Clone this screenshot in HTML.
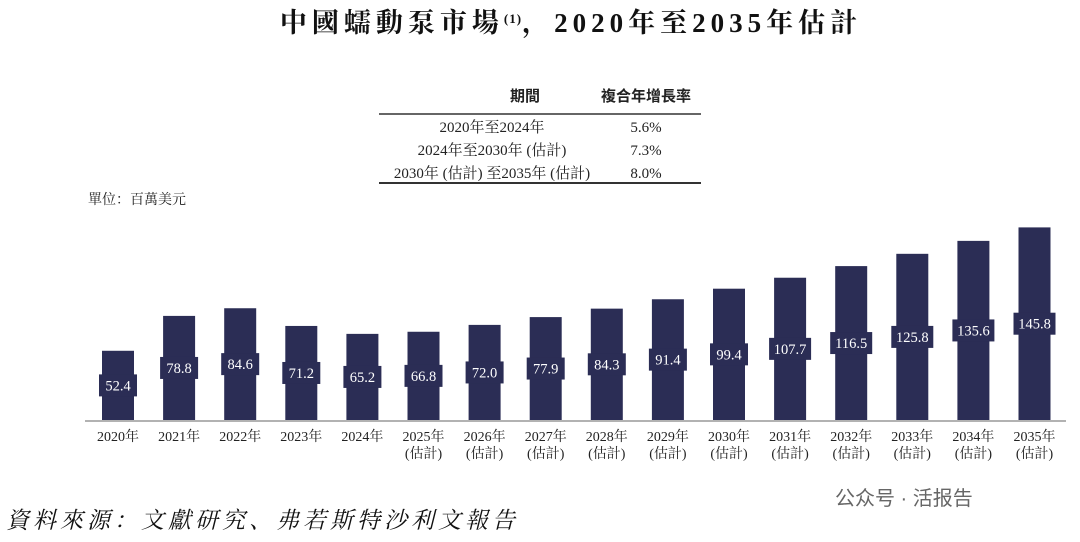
<!DOCTYPE html>
<html><head><meta charset="utf-8"><style>
body{margin:0;width:1080px;height:542px;background:#fff;overflow:hidden;font-family:"Liberation Serif","Noto Serif CJK SC",serif;}
svg{display:block}
</style></head><body>
<svg id="c" width="1080" height="542">
<text x="571" y="32" text-anchor="middle" font-size="27" font-weight="bold" fill="#111" letter-spacing="5">中國蠕動泵市場<tspan font-size="13" dy="-9" letter-spacing="1">(1)</tspan><tspan dy="9">，2020年至2035年估計</tspan></text>
<g font-size="15" fill="#222">
<text x="525" y="101" text-anchor="middle" font-family="Liberation Sans,Noto Sans CJK SC,sans-serif" font-weight="bold">期間</text>
<text x="646" y="101" text-anchor="middle" font-family="Liberation Sans,Noto Sans CJK SC,sans-serif" font-weight="bold">複合年增長率</text>
<line x1="379" y1="114" x2="701" y2="114" stroke="#333" stroke-width="1.5"/>
<text x="492" y="132" text-anchor="middle">2020年至2024年</text>
<text x="646" y="132" text-anchor="middle">5.6%</text>
<text x="492" y="155" text-anchor="middle">2024年至2030年 (估計)</text>
<text x="646" y="155" text-anchor="middle">7.3%</text>
<text x="492" y="178" text-anchor="middle">2030年 (估計) 至2035年 (估計)</text>
<text x="646" y="178" text-anchor="middle">8.0%</text>
<line x1="379" y1="183" x2="701" y2="183" stroke="#333" stroke-width="2"/>
</g>
<text x="88" y="204" font-size="14" fill="#222">單位：百萬美元</text>
<g id="bars"></g>
<line x1="85" y1="421" x2="1066" y2="421" stroke="#999" stroke-width="1.5"/>
<g id="xl" font-size="14" fill="#222"></g>
<text x="6" y="528" font-size="23" font-style="italic" fill="#111" letter-spacing="4">資料來源：文獻研究、弗若斯特沙利文報告</text>
<text x="835" y="505" font-size="20" fill="#666" font-family="Liberation Sans,Noto Sans CJK SC,sans-serif">公众号 · 活报告</text>
</svg>
<script>
const years=["2020年","2021年","2022年","2023年","2024年","2025年","2026年","2027年","2028年","2029年","2030年","2031年","2032年","2033年","2034年","2035年"];
const estimated=[false,false,false,false,false,true,true,true,true,true,true,true,true,true,true,true];
const values=[52.4,78.8,84.6,71.2,65.2,66.8,72.0,77.9,84.3,91.4,99.4,107.7,116.5,125.8,135.6,145.8];
const labels=["52.4","78.8","84.6","71.2","65.2","66.8","72.0","77.9","84.3","91.4","99.4","107.7","116.5","125.8","135.6","145.8"];
const NS="http://www.w3.org/2000/svg";
const base=420,k=1.321,x0=118,step=61.1,bw=32;
const xS=i=>x0+i*step, yS=v=>base-v*k;
const bars=document.getElementById('bars'),xl=document.getElementById('xl');
function mk(t,a){const e=document.createElementNS(NS,t);for(const n in a)e.setAttribute(n,a[n]);return e;}
values.forEach((v,i)=>{
 const cx=xS(i),top=yS(v),mid=(top+base)/2;
 const r=mk('rect',{x:cx-bw/2,y:top,width:bw,height:base-top,fill:'#2b2d55'});
 
 
 bars.appendChild(r);
 const w=labels[i].length>4?42:38;
 const b=mk('rect',{x:cx-w/2,y:mid-11,width:w,height:22,fill:'#2b2d55'});
 
 
 bars.appendChild(b);
 const t=mk('text',{x:cx,y:mid+5,'text-anchor':'middle','font-size':14.5,fill:'#fff'});
 t.textContent=labels[i];
 
 
 bars.appendChild(t);
 const l=mk('text',{x:cx,y:441,'text-anchor':'middle'});
 l.textContent=years[i];
 
 
 xl.appendChild(l);
 if(estimated[i]){
  const e=mk('text',{x:cx,y:458,'text-anchor':'middle'});
  e.textContent='(估計)';
  
  
  xl.appendChild(e);
 }
});
</script>
</body></html>
